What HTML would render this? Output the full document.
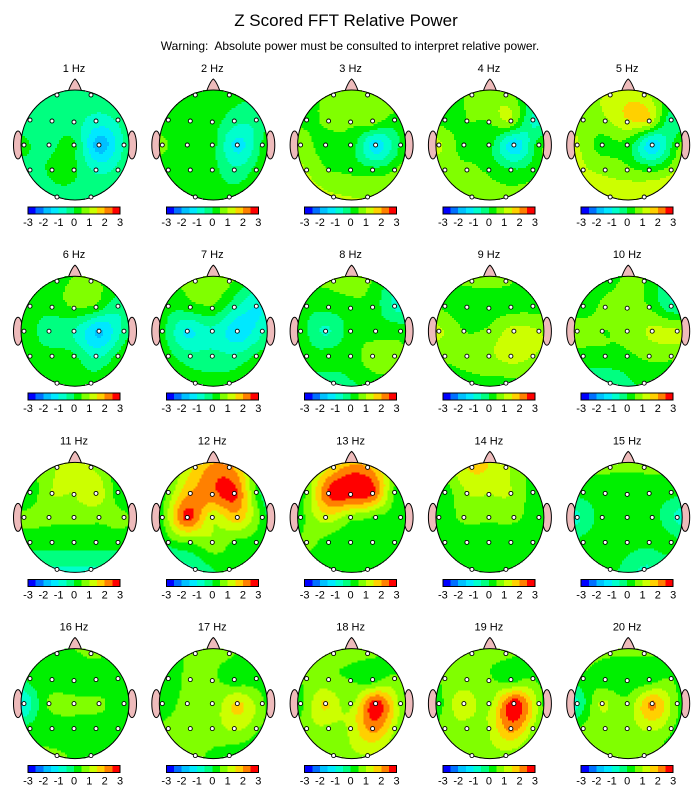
<!DOCTYPE html>
<html><head><meta charset="utf-8"><style>
html,body{margin:0;padding:0;background:#fff;}
svg{display:block;font-family:"Liberation Sans",sans-serif;}
</style></head><body>
<svg id="chart" width="693" height="807" viewBox="0 0 693 807">
<text x="346" y="26" text-anchor="middle" font-size="17">Z Scored FFT Relative Power</text>
<text x="350" y="50" text-anchor="middle" font-size="12">Warning:&#160; Absolute power must be consulted to interpret relative power.</text>
</svg>
<script>
const electrodes = ["Fp1","Fp2","F7","F3","Fz","F4","F8","T3","C3","Cz","C4","T4","T5","P3","Pz","P4","T6","O1","O2"];
const freqLabels = ["1 Hz","2 Hz","3 Hz","4 Hz","5 Hz","6 Hz","7 Hz","8 Hz","9 Hz","10 Hz","11 Hz","12 Hz","13 Hz","14 Hz","15 Hz","16 Hz","17 Hz","18 Hz","19 Hz","20 Hz"];
const tickLabels = ["-3","-2","-1","0","1","2","3"];
const binColors = ["#0000FF","#0070FF","#00C0FF","#00E8FF","#00FFCC","#00FF80","#00F000","#80FF00","#CCFF00","#FFD000","#FF8000","#FF0000"];
const hz1 = [-0.3,-0.3,-0.3,-0.3,-0.3,-0.7,-0.4,0.1,-0.2,0.1,-1.8,-0.4,-0.2,0.1,0.1,-0.6,-0.3,-0.2,-0.3];
const hz2 = [0.2,0.2,0.2,0.2,0.2,-0.3,-0.3,0.6,0.2,0.2,-1.2,0.1,0.2,0.2,0.2,-0.4,0.2,0.2,0.2];
const hz3 = [0.6,0.7,0.4,0.6,0.6,0.8,0.3,0.8,0.3,0.3,-1.3,0.1,1.0,0.5,0.4,0.2,0.5,1.1,1.0];
const hz4 = [0.6,0.7,0.3,0.5,0.5,1.0,-0.6,1.1,0.3,0.2,-1.4,0.3,0.6,0.6,0.4,0.1,0.3,0.7,0.6];
const hz5 = [1.1,1.1,0.8,0.9,1.4,1.4,-0.3,1.1,0.3,0.3,-1.4,0.4,1.1,0.9,0.7,0.4,0.8,1.2,1.5];
const hz6 = [0.3,0.6,0.2,0.2,0.5,0.4,-0.3,0.4,-0.3,-0.5,-1.6,-0.3,0.2,0.2,0.1,-0.6,0.2,0.2,0.2];
const hz7 = [0.6,0.6,0.2,0.3,0.4,-0.4,-1.0,0.2,-1.1,-0.6,-1.4,-0.6,0.2,-0.3,-0.3,-0.4,0.1,0.2,0.2];
const hz8 = [0.6,0.6,0.2,0.2,0.3,0.3,-0.6,0.3,-0.6,0.2,0.3,0.3,0.2,0.2,0.3,0.7,0.6,-0.3,0.2];
const hz9 = [0.6,0.6,0.4,0.3,0.3,0.3,0.3,1.1,0.5,0.6,1.2,1.0,0.6,0.7,0.9,1.2,1.0,0.3,0.3];
const hz10 = [0.4,0.5,0.3,0.6,0.6,0.5,-0.4,0.7,0.5,0.6,1.1,1.1,0.3,0.4,0.4,0.6,0.6,-0.5,0.2];
const hz11 = [1.0,1.0,0.2,1.0,1.0,1.4,0.2,0.6,0.6,0.6,0.6,0.6,0.2,0.2,0.2,0.2,0.2,-0.6,-0.6];
const hz12 = [1.6,2.1,0.6,2.0,2.3,2.7,0.3,0.4,2.7,1.1,1.8,0.3,0.2,0.5,0.9,0.4,0.2,-0.5,0.2];
const hz13 = [1.6,2.0,0.6,2.6,2.8,2.6,0.4,0.3,1.3,0.7,0.4,0.2,0.6,0.3,0.3,0.3,0.2,0.2,0.2];
const hz14 = [1.6,1.1,0.2,1.0,1.0,1.0,0.2,0.2,0.6,0.6,0.6,0.2,0.2,0.2,0.2,0.2,0.2,0.2,0.2];
const hz15 = [0.6,0.6,0.2,0.2,0.2,0.2,0.2,-0.6,0.2,0.2,0.2,-0.6,0.2,0.2,0.2,0.1,0.2,0.2,-0.6];
const hz16 = [0.3,0.6,0.2,0.2,0.2,0.2,0.2,-1.0,0.6,0.6,0.6,0.2,0.2,0.2,0.3,0.2,0.2,0.6,0.2];
const hz17 = [0.6,0.6,0.3,0.6,0.6,0.2,0.2,0.3,0.6,0.6,1.6,0.6,0.6,0.6,0.7,1.1,0.6,0.6,0.2];
const hz18 = [0.7,0.7,0.6,0.6,0.5,0.2,0.6,0.3,1.6,0.8,2.8,0.8,0.8,0.9,1.1,2.2,1.0,0.7,1.0];
const hz19 = [0.7,0.7,0.6,0.7,0.6,0.2,0.5,0.3,1.4,0.8,2.9,0.8,0.7,0.8,1.0,2.2,0.9,0.7,0.8];
const hz20 = [0.6,0.6,0.4,0.2,0.2,0.2,0.5,-0.6,1.1,0.6,2.1,0.5,0.6,0.7,0.7,1.1,0.6,1.0,0.6];
const maps = [hz1,hz2,hz3,hz4,hz5,hz6,hz7,hz8,hz9,hz10,hz11,hz12,hz13,hz14,hz15,hz16,hz17,hz18,hz19,hz20];

const NS = "http://www.w3.org/2000/svg";
const svg = document.getElementById("chart");
const ex = [-17,17,-44,-22,0,22,44,-50,-25,0,25,50,-44,-22,0,22,44,-17,17];
const ey = [-50,-50,-25,-24,-23,-24,-25,0,0,0,0,0,25,25,25,25,25,52,52];
function mk(tag, attrs, parent){const e=document.createElementNS(NS,tag);for(const k in attrs)e.setAttribute(k,attrs[k]);(parent||svg).appendChild(e);return e;}
function zToBin(z){let b=Math.floor((z+3)/0.5);return Math.max(0,Math.min(11,b));}
function phi(r2){ if(r2<1e-9) return 0; return 0.5*r2*Math.log(r2); }
function fitTPS(vals){
  const n=vals.length, N=n+3;
  const A=[];for(let i=0;i<N;i++){A.push(new Array(N+1).fill(0));}
  const px=ex.map(v=>v/50), py=ey.map(v=>v/50);
  for(let i=0;i<n;i++){
    for(let j=0;j<n;j++){const dx=px[i]-px[j],dy=py[i]-py[j];A[i][j]=phi(dx*dx+dy*dy);}
    A[i][n]=1;A[i][n+1]=px[i];A[i][n+2]=py[i];
    A[n][i]=1;A[n+1][i]=px[i];A[n+2][i]=py[i];
    A[i][N]=vals[i];
  }
  for(let c=0;c<N;c++){
    let p=c;for(let r=c+1;r<N;r++)if(Math.abs(A[r][c])>Math.abs(A[p][c]))p=r;
    [A[c],A[p]]=[A[p],A[c]];
    for(let r=0;r<N;r++){if(r===c)continue;const f=A[r][c]/A[c][c];if(f===0)continue;for(let k=c;k<=N;k++)A[r][k]-=f*A[c][k];}
  }
  const w=A.map((row,i)=>row[N]/row[i]);
  return function(x,y){x/=50;y/=50;let s=w[n]+w[n+1]*x+w[n+2]*y;
    for(let i=0;i<n;i++){const dx=x-px[i],dy=y-py[i];s+=w[i]*phi(dx*dx+dy*dy);}return s;};
}

maps.forEach((vals,m)=>{
  const col=m%5,row=Math.floor(m/5);
  const cx=75+138.3*col, cy=145+186.2*row, rx=54, ry=55;
  const f=fitTPS(vals);
  const g=mk("g",{});
  
  
  const t=mk("text",{x:cx-1,y:cy-73,"text-anchor":"middle","font-size":"11"},g);
  t.textContent=freqLabels[m];
  
  
  const nose=mk("path",{d:`M${cx-7},${cy-53} Q${cx-3},${cy-64} ${cx},${cy-66} Q${cx+3},${cy-64} ${cx+7},${cy-53}Z`,fill:"#EEBBBB",stroke:"#000","stroke-width":"1"},g);
  
  
  [-1,1].forEach(s=>{const ear=mk("ellipse",{cx:cx+s*57,cy:cy,rx:4.5,ry:14,fill:"#EEBBBB",stroke:"#000","stroke-width":"1"},g);
    
    });
  const step=2;
  const field=mk("g",{"shape-rendering":"crispEdges"},g);
  
  
  for(let y=-ry;y<ry;y+=step){
    let runStart=null,runBin=-1;
    const yy=y+step/2;
    const half=rx*Math.sqrt(Math.max(0,1-(yy*yy)/(ry*ry)));
    const x0=-Math.ceil(half/step)*step, x1=Math.ceil(half/step)*step;
    for(let x=x0;x<=x1;x+=step){
      let b=-2;
      if(x<x1){const xx=x+step/2;b=zToBin(f(xx+1,yy));}
      if(b!==runBin){
        if(runBin>=0){
          const xs=Math.max(runStart,-half), xe=Math.min(x,half);
          if(xe>xs){const r=mk("rect",{x:(cx+xs).toFixed(1),y:(cy+y).toFixed(1),width:(xe-xs).toFixed(1),height:step,fill:binColors[runBin]},field);
            
            }
        }
        runStart=x;runBin=b;
      }
    }
  }
  const hd=mk("ellipse",{cx:cx,cy:cy,rx:rx,ry:ry,fill:"none",stroke:"#000","stroke-width":"1"},g);
  
  
  vals.forEach((v,i)=>{const c=mk("circle",{cx:cx-1+ex[i],cy:cy+ey[i],r:2,fill:"#fff",stroke:"#000","stroke-width":"0.9"},g);
    
    });
  const bx0=cx-47,bw=92,by=cy+62,bh=7;
  const cb=mk("g",{"shape-rendering":"crispEdges"},g);
  
  
  binColors.forEach((c,i)=>{const r=mk("rect",{x:bx0+bw*i/12,y:by,width:bw/12+0.3,height:bh,fill:c},cb);
    
    });
  mk("rect",{x:bx0,y:by,width:bw,height:bh,fill:"none",stroke:"#000","stroke-width":"1"},cb);
  tickLabels.forEach((l,i)=>{const tt=mk("text",{x:bx0+bw*i/6,y:cy+81,"text-anchor":"middle","font-size":"11"},cb);
    tt.textContent=l;
    
    });
});
</script>
</body></html>
